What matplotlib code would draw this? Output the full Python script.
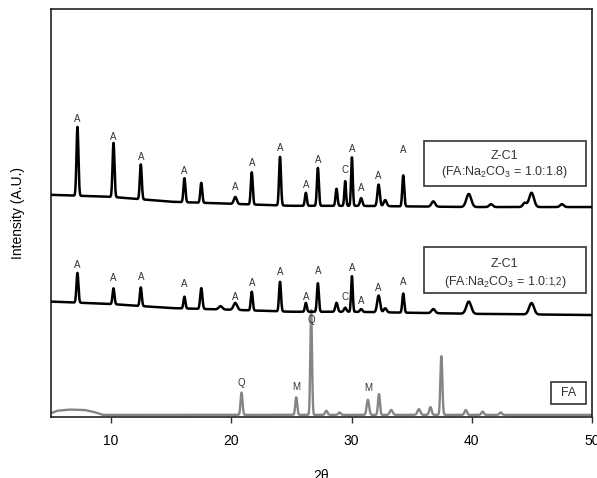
import numpy as np
import matplotlib
matplotlib.use("Agg")
import matplotlib.pyplot as plt
from matplotlib.patches import Rectangle
from matplotlib.offsetbox import TextArea, HPacker, AnchoredOffsetbox

plt.rcParams['font.family'] = 'Liberation Sans'
plt.rcParams['mathtext.fontset'] = 'custom'
plt.rcParams['mathtext.rm'] = 'Liberation Sans'

# 2-theta grid
two_theta = np.arange(5, 50.001, 0.02)

# Z-C1 (FA:Na2CO3 = 1.0:1.8) - baseline knots and peaks (pos, height, sigma)
top_base_x = [5, 10, 15, 20, 25, 30, 40, 50]
top_base_y = [54.4, 53.9, 52.7, 52.2, 51.7, 51.7, 51.4, 51.4]
top_pos = [7.2, 10.2, 12.47, 16.1, 17.5, 20.33, 21.7, 24.05, 26.2, 27.2, 28.75, 29.47,
           30.03, 30.8, 32.25, 32.8, 34.3, 36.8, 39.75, 41.6, 44.4, 44.97, 47.5]
top_hgt = [16.9, 13.3, 8.6, 5.9, 4.9, 1.7, 7.9, 12.0, 3.2, 9.3, 4.2, 6.1,
           12.0, 1.9, 5.3, 1.5, 7.6, 1.3, 3.2, 0.7, 1.0, 3.5, 0.7]
top_wid = [0.08, 0.08, 0.08, 0.08, 0.08, 0.12, 0.08, 0.08, 0.08, 0.08, 0.08, 0.07,
           0.07, 0.1, 0.1, 0.12, 0.08, 0.15, 0.2, 0.15, 0.15, 0.2, 0.15]

# Z-C1 (FA:Na2CO3 = 1.0:1,2)
mid_base_x = [5, 10, 15, 20, 25, 30, 40, 50]
mid_base_y = [28.2, 27.6, 26.6, 26.2, 25.7, 25.7, 25.2, 24.9]
mid_pos = [7.2, 10.2, 12.47, 16.1, 17.5, 19.1, 20.33, 21.7, 24.05, 26.2, 27.2, 28.75,
           29.47, 30.03, 30.8, 32.25, 32.8, 34.3, 36.8, 39.75, 44.97]
mid_hgt = [7.3, 3.9, 4.6, 2.9, 5.1, 0.8, 1.7, 4.6, 7.3, 2.2, 7.0, 2.2,
           1.0, 8.8, 0.7, 4.1, 1.0, 4.7, 1.0, 3.0, 2.8]
mid_wid = [0.08, 0.08, 0.08, 0.08, 0.09, 0.15, 0.15, 0.08, 0.08, 0.08, 0.08, 0.1,
           0.1, 0.07, 0.1, 0.12, 0.12, 0.08, 0.15, 0.2, 0.2]

# FA
fa_base_x = [5, 5.5, 6.5, 7.8, 8.6, 9.3, 50]
fa_base_y = [0.8, 1.4, 1.7, 1.6, 1.1, 0.4, 0.4]
fa_pos = [20.85, 25.4, 26.64, 27.9, 29.0, 31.36, 32.28, 33.3, 35.6, 36.56, 37.47, 39.5, 40.9, 42.4]
fa_hgt = [5.5, 4.3, 25.7, 1.0, 0.6, 3.7, 5.1, 1.2, 1.4, 1.9, 14.5, 1.2, 0.8, 0.6]
fa_wid = [0.08, 0.08, 0.07, 0.1, 0.1, 0.1, 0.08, 0.12, 0.12, 0.1, 0.08, 0.1, 0.1, 0.1]

# phase labels (x, y, letter)
top_lab_x = [7.2, 10.2, 12.47, 16.1, 20.33, 21.7, 24.05, 26.2, 27.2, 29.47, 30.03, 30.8, 32.25, 34.3]
top_lab_y = [73.1, 68.6, 63.7, 60.3, 56.3, 62.2, 65.9, 56.8, 63.0, 60.4, 65.7, 56.1, 59.1, 65.5]
top_lab_t = ['A', 'A', 'A', 'A', 'A', 'A', 'A', 'A', 'A', 'C', 'A', 'A', 'A', 'A']
mid_lab_x = top_lab_x
mid_lab_y = [37.2, 34.0, 34.3, 32.5, 29.3, 32.8, 35.5, 29.4, 35.6, 29.3, 36.5, 28.4, 31.5, 32.9]
mid_lab_t = top_lab_t
fa_lab_x = [20.85, 25.4, 26.64, 31.36]
fa_lab_y = [8.2, 7.2, 23.6, 7.0]
fa_lab_t = ['Q', 'M', 'Q', 'M']


def pattern(x, bx, by, pos, hgt, wid):
    y = np.interp(x, bx, by)
    for p, h, w in zip(pos, hgt, wid):
        y = y + h * np.exp(-0.5 * ((x - p) / w) ** 2)
    return y


top = pattern(two_theta, top_base_x, top_base_y, top_pos, top_hgt, top_wid)
mid = pattern(two_theta, mid_base_x, mid_base_y, mid_pos, mid_hgt, mid_wid)
fa = pattern(two_theta, fa_base_x, fa_base_y, fa_pos, fa_hgt, fa_wid)

fig = plt.figure(figsize=(5.97, 4.78), dpi=100)
ax = fig.add_axes([51 / 597, (478 - 416.5) / 478, 541 / 597, 407.5 / 478])

ax.plot(two_theta, fa, color='#858585', lw=1.7, zorder=2)
ax.plot(two_theta, mid, color='black', lw=1.8, zorder=3)
ax.plot(two_theta, top, color='black', lw=1.8, zorder=3)

for xs, ys, ts in [(top_lab_x, top_lab_y, top_lab_t), (mid_lab_x, mid_lab_y, mid_lab_t),
                   (fa_lab_x, fa_lab_y, fa_lab_t)]:
    for xx, yy, tt in zip(xs, ys, ts):
        ax.text(xx, yy, tt, fontsize=7, ha='center', va='center', color='#333333', zorder=4)

# boxes
ax.add_patch(Rectangle((36.0, 56.6), 13.5, 11.1, fill=False, ec='#333333', lw=1.2, zorder=5))
ax.text(42.75, 64.0, 'Z-C1', fontsize=9, ha='center', va='center', color='#333333')
ax.text(42.75, 60.1, r'(FA:Na$\mathregular{_2}$CO$\mathregular{_3}$ = 1.0:1.8)', fontsize=9,
        ha='center', va='center', color='#333333')

ax.add_patch(Rectangle((36.0, 30.3), 13.5, 11.3, fill=False, ec='#333333', lw=1.2, zorder=5))
ax.text(42.75, 37.5, 'Z-C1', fontsize=9, ha='center', va='center', color='#333333')
tp = dict(fontsize=9, color='#333333')
line2 = HPacker(children=[TextArea(r'(FA:Na$\mathregular{_2}$CO$\mathregular{_3}$ = 1.0:', textprops=tp),
                          TextArea('1,2', textprops=dict(fontsize=7, color='#333333')),
                          TextArea(')', textprops=tp)],
                align='baseline', pad=0, sep=0)
ab = AnchoredOffsetbox(loc='center', child=line2, frameon=False, pad=0, borderpad=0,
                       bbox_to_anchor=(42.75, 33.1), bbox_transform=ax.transData)
ax.add_artist(ab)

ax.add_patch(Rectangle((46.56, 3.07), 2.94, 5.48, fill=False, ec='#333333', lw=1.2, zorder=5))
ax.text(48.03, 5.8, 'FA', fontsize=9, ha='center', va='center', color='#333333')

ax.set_xlim(5, 50)
ax.set_ylim(0, 100)
ax.set_yticks([])
ax.set_xticks([10, 20, 30, 40, 50])
ax.tick_params(axis='x', direction='out', length=4.5, width=1, pad=8, labelsize=10, colors='#333333')
ax.tick_params(axis='x', labelcolor='black')
for s in ax.spines.values():
    s.set_linewidth(1.2)
    s.set_color('#222222')

ax.set_xlabel('2θ', fontsize=10)
ax.xaxis.set_label_coords(0.5, -0.129)
ax.set_ylabel('Intensity (A.U.)', fontsize=10)
ax.yaxis.set_label_coords(-0.048, 0.5)

fig.savefig('out.png', dpi=100)
